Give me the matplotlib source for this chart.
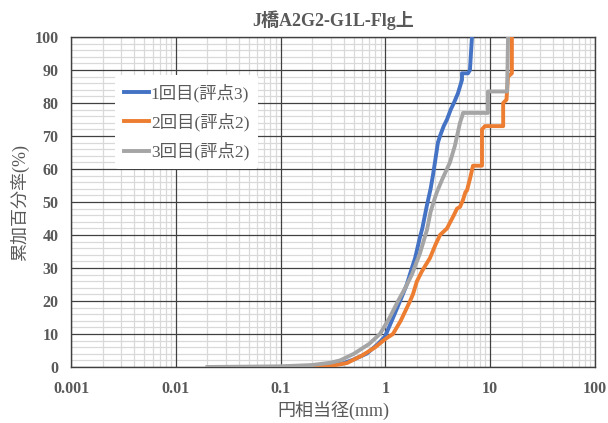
import numpy as np
import matplotlib
matplotlib.use("Agg")
import matplotlib.pyplot as plt
from matplotlib.ticker import FixedLocator, NullFormatter

plt.rcParams['font.family'] = ['Liberation Serif', 'Noto Sans CJK JP', 'DejaVu Sans']

# 円相当径 (mm) と 累加百分率 (%)
d1 = [0.1, 0.2, 0.3, 0.394, 0.5, 0.667, 0.85, 0.99, 1.15, 1.38, 1.6, 1.79, 1.92,
      2.14, 2.25, 2.49, 2.7, 2.84, 2.97, 3.17, 3.32, 3.6, 3.87, 4.2, 4.5, 4.93,
      5.38, 5.38, 6.14, 6.41, 6.55, 6.7]
p1 = [0, 0.3, 0.7, 1.1, 2.3, 4.1, 7, 9.2, 14, 20, 25, 30, 33,
      39.4, 42, 49, 54, 58, 62, 68, 70, 73, 75, 78, 80, 83,
      87, 89, 89, 90, 95, 100]

d2 = [0.2, 0.3, 0.43, 0.6, 0.8, 1.0, 1.18, 1.4, 1.72, 1.83, 2.0, 2.23, 2.66,
      3.0, 3.32, 3.87, 4.5, 4.82, 5.15, 5.5, 5.8, 6.0, 6.41, 6.85, 8.35, 8.35,
      8.9, 13.3, 13.3, 14.3, 14.8, 16.1, 16.1]
p2 = [0, 0.3, 1.2, 3.5, 6, 8.5, 10, 14, 20, 22, 26, 29, 33,
      37, 40, 42, 46, 48, 48.5, 50.6, 53, 53.5, 57, 61, 61, 72,
      73, 73, 80, 81, 88, 89, 100]

d3 = [0.02, 0.1, 0.2, 0.3, 0.37, 0.5, 0.7, 0.887, 1.1, 1.32, 1.55, 1.79, 2.14,
      2.49, 2.7, 2.95, 3.1, 3.5, 4.13, 4.6, 5.15, 5.4, 5.5, 9.52, 9.52, 14.5, 14.8]
p3 = [0, 0.2, 0.6, 1.3, 2, 4, 7, 10, 15, 20, 24, 28, 34.5,
      41.5, 47, 51, 53, 57, 62, 67, 74, 76, 77, 77, 83.5, 83.5, 100]

labels = ['1回目(評点3)', '2回目(評点2)', '3回目(評点2)']
colors = ['#4472C4', '#ED7D31', '#A5A5A5']
x_ticks = [0.001, 0.01, 0.1, 1, 10, 100]
x_ticklabels = ['0.001', '0.01', '0.1', '1', '10', '100']

txt = '#595959'

fig = plt.figure(figsize=(6.08, 4.23), dpi=100)
ax = fig.add_axes([0.1168, 0.1324, 0.8618, 0.7801])

ax.set_xscale('log')
ax.set_xlim(0.001, 100)
ax.set_ylim(0, 100)

minor_x = [m * 10.0 ** e for e in range(-3, 2) for m in range(2, 10)]
ax.xaxis.set_minor_locator(FixedLocator(minor_x))
ax.xaxis.set_minor_formatter(NullFormatter())
ax.set_xticks(x_ticks)
ax.set_xticklabels(x_ticklabels)
ax.set_yticks(np.arange(0, 101, 10))
ax.yaxis.set_minor_locator(FixedLocator(np.arange(0, 101, 2)))

# light minor grid, dark major grid drawn over it
ax.set_axisbelow(True)
ax.grid(which='minor', color='#d9d9d9', lw=0.9)
for xv in x_ticks:
    ax.axvline(xv, color='#404040', lw=0.9, zorder=2)
for yv in np.arange(0, 101, 10):
    ax.axhline(yv, color='#404040', lw=0.9, zorder=2)

ax.tick_params(which='both', length=0, labelsize=11.5, labelcolor=txt)
ax.tick_params(axis='x', pad=10)
ax.tick_params(axis='y', pad=9)
for lab in ax.get_xticklabels() + ax.get_yticklabels():
    lab.set_fontweight('bold')
for s in ax.spines.values():
    s.set_color('#404040')
    s.set_linewidth(1)

for d, p, lab, c in zip([d1, d2, d3], [p1, p2, p3], labels, colors):
    ax.plot(d, p, color=c, lw=2.8, label=lab, zorder=3)

ax.set_title('J橋A2G2-G1L-Flg上', fontsize=13, color=txt, fontweight='bold', pad=8)
ax.set_xlabel('円相当径(mm)', fontsize=13, color=txt, labelpad=3)
ax.set_ylabel('累加百分率(%)', fontsize=13, color=txt, labelpad=4)

leg = ax.legend(loc='upper left', bbox_to_anchor=(0.068, 0.912), frameon=True,
                fontsize=12.5, handlelength=1.45, handletextpad=0.1,
                labelspacing=0.62, borderpad=0.5)
leg.get_frame().set_edgecolor('none')
leg.get_frame().set_facecolor('white')
leg.get_frame().set_alpha(1)
leg.set_zorder(4)
for t in leg.get_texts():
    t.set_color(txt)

fig.savefig('out.png', dpi=100)
